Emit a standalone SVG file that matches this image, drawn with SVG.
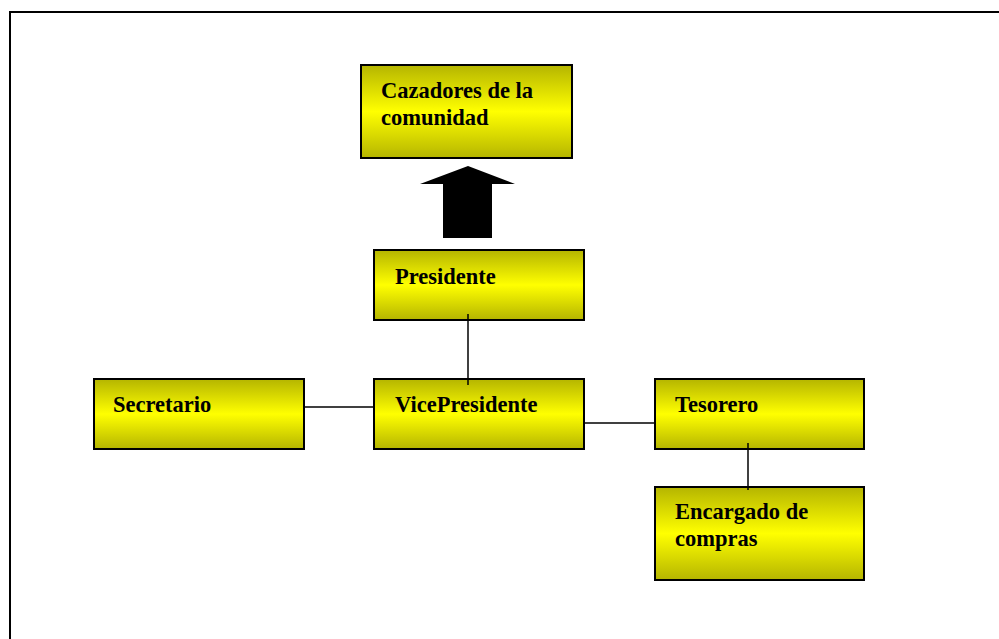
<svg xmlns="http://www.w3.org/2000/svg" width="999" height="639" viewBox="0 0 999 639">
<defs>
<linearGradient id="yg" x1="0" y1="0" x2="0" y2="1">
<stop offset="0" stop-color="#B5B500"/>
<stop offset="0.5" stop-color="#FFFF00"/>
<stop offset="1" stop-color="#B5B500"/>
</linearGradient>
</defs>
<style>
.box{fill:url(#yg);stroke:#000;stroke-width:2}
.t{font-family:"Liberation Serif","Times New Roman",serif;font-weight:bold;font-size:22.5px;fill:#000}
.c{stroke:#000;stroke-width:1.5;fill:none}
</style>
<rect width="999" height="639" fill="#fff"/>
<path d="M10 660 V12 H1000" fill="none" stroke="#000" stroke-width="2"/>
<g id="cazadores">
<rect class="box" x="361" y="65" width="211" height="93"/>
<text class="t" x="381" y="98">Cazadores de la</text>
<text class="t" x="381" y="125">comunidad</text>
</g>
<g id="presidente">
<rect class="box" x="374" y="250" width="210" height="70"/>
<text class="t" x="395" y="284">Presidente</text>
</g>
<g id="vicepresidente">
<rect class="box" x="374" y="379" width="210" height="70"/>
<text class="t" x="395" y="412">VicePresidente</text>
</g>
<g id="secretario">
<rect class="box" x="94" y="379" width="210" height="70"/>
<text class="t" x="113" y="412">Secretario</text>
</g>
<g id="tesorero">
<rect class="box" x="655" y="379" width="209" height="70"/>
<text class="t" x="675" y="412">Tesorero</text>
</g>
<g id="encargado">
<rect class="box" x="655" y="487" width="209" height="93"/>
<text class="t" x="675" y="519">Encargado de</text>
<text class="t" x="675" y="546">compras</text>
</g>
<g id="connectors">
<line class="c" x1="468" y1="314" x2="468" y2="385"/>
<line class="c" x1="304" y1="407" x2="374" y2="407"/>
<line class="c" x1="585" y1="423" x2="655" y2="423"/>
<line class="c" x1="748" y1="443" x2="748" y2="490"/>
<polygon points="468,166 515,184 492,184 492,238 443,238 443,184 420,184" fill="#000"/>
</g>
</svg>
